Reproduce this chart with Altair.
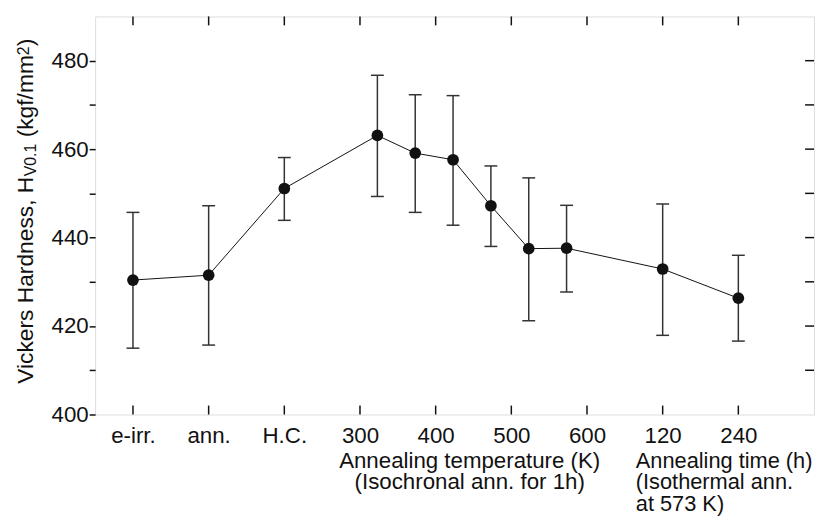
import json
import altair as alt
import pandas as pd

# ---- data ----
tick_labels = ["e-irr.", "ann.", "H.C.", "300", "400", "500", "600", "120", "240"]
tick_pos = [0, 1, 2, 3, 4, 5, 6, 7, 8]
# sample positions on the category axis: e-irr, ann, H.C., 323..573 K, 120 h, 240 h
x_pos = [0, 1, 2, 3.23, 3.73, 4.23, 4.73, 5.23, 5.73, 7, 8]
hv = [430.4, 431.5, 451.1, 463.1, 459.1, 457.6, 447.2, 437.5, 437.6, 432.9, 426.3]
hv_hi = [445.7, 447.2, 458.1, 476.7, 472.3, 472.1, 456.2, 453.5, 447.3, 447.6, 436.0]
hv_lo = [415.0, 415.7, 443.9, 449.3, 445.7, 442.8, 438.0, 421.2, 427.7, 417.9, 416.6]
y_ticks = [400, 410, 420, 430, 440, 450, 460, 470, 480]

W, H = 726, 402
FONT = "Liberation Sans"
FS = 22.5

df = pd.DataFrame({"x": x_pos, "hv": hv, "hi": hv_hi, "lo": hv_lo})
df_xt = pd.DataFrame({"x": tick_pos})
df_yt = pd.DataFrame({"y": y_ticks[1:]})

xs = alt.Scale(domain=[-0.5, 9], nice=False, zero=False)
ys = alt.Scale(domain=[400, 490], nice=False, zero=False)

xaxis = alt.Axis(
    values=tick_pos,
    labelExpr=json.dumps(tick_labels) + "[datum.value]",
    ticks=False, tickSize=0, domain=False, grid=False,
    labelFont=FONT, labelFontSize=FS, labelColor="#111",
    labelPadding=10, labelFlush=False, labelOverlap=False, title=None,
)
yaxis = alt.Axis(
    values=y_ticks,
    labelExpr="datum.value % 20 == 0 ? datum.label : ''",
    ticks=True, tickSize=6, tickWidth=1.5, tickColor="#111",
    domain=False, grid=False,
    labelFont=FONT, labelFontSize=FS, labelColor="#111",
    labelPadding=1, title=None,
)


def X(field="x"):
    return alt.X(f"{field}:Q", scale=xs, axis=xaxis)


def Y(field):
    return alt.Y(f"{field}:Q", scale=ys, axis=yaxis)


bars = alt.Chart(df).mark_rule(color="#333", strokeWidth=1.5).encode(
    x=X(), y=Y("lo"), y2="hi:Q"
)
cap_hi = alt.Chart(df).mark_tick(orient="horizontal", size=13, thickness=1.5, color="#333", opacity=1).encode(
    x=X(), y=Y("hi")
)
cap_lo = alt.Chart(df).mark_tick(orient="horizontal", size=13, thickness=1.5, color="#333", opacity=1).encode(
    x=X(), y=Y("lo")
)
line = alt.Chart(df).mark_line(color="#111", strokeWidth=1).encode(x=X(), y=Y("hv"))
pts = alt.Chart(df).mark_point(filled=True, size=140, color="#111", opacity=1, shape="circle").encode(
    x=X(), y=Y("hv")
)

# inward ticks on bottom / top / right
tick_b = alt.Chart(df_xt).mark_rule(color="#111", strokeWidth=1.5).encode(
    x=X(), y=alt.value(H - 9), y2=alt.value(H)
)
tick_t = alt.Chart(df_xt).mark_rule(color="#111", strokeWidth=1.5).encode(
    x=X(), y=alt.value(0), y2=alt.value(9)
)
tick_r = alt.Chart(df_yt).mark_rule(color="#111", strokeWidth=1.5).encode(
    y=Y("y"), x=alt.value(W - 9), x2=alt.value(W)
)

# x-axis titles
df_t1 = pd.DataFrame({"x": [4.45], "t": ["Annealing temperature (K)\n(Isochronal ann. for 1h)"]})
df_t2 = pd.DataFrame({"x": [6.645], "t": ["Annealing time (h)\n(Isothermal ann.\nat 573 K)"]})
t1 = alt.Chart(df_t1).mark_text(
    align="center", baseline="alphabetic", lineBreak="\n", lineHeight=21.5,
    font=FONT, fontSize=FS, color="#111"
).encode(x=X(), y=alt.value(456), text="t:N")
t2 = alt.Chart(df_t2).mark_text(
    align="left", baseline="alphabetic", lineBreak="\n", lineHeight=21.5,
    font=FONT, fontSize=22, color="#111"
).encode(x=X(), y=alt.value(456), text="t:N")

# y-axis title built from segments (subscript / superscript)
seg_df = pd.DataFrame({"a": [0]})


def seg(text, px, py, size):
    return alt.Chart(seg_df).mark_text(
        text=text, angle=270, align="left", baseline="alphabetic",
        font=FONT, fontSize=size, color="#111"
    ).encode(x=alt.value(px), y=alt.value(py))


ytitle = [
    seg("Vickers Hardness, H", -63, 371, 23),
    seg("V0.1", -60, 161.4, 16),
    seg("(kgf/mm", -63, 122.1, 23),
    seg("2", -67, 39.1, 16),
    seg(")", -63, 30.2, 23),
]

chart = alt.layer(
    bars, cap_hi, cap_lo, line, pts, tick_b, tick_t, tick_r, t1, t2, *ytitle
).properties(
    width=W, height=H,
    autosize=alt.AutoSizeParams(type="none"),
    padding={"left": 88, "top": 6, "right": 1, "bottom": 104},
).configure_view(
    stroke="#111", strokeWidth=1.5
).configure(background="white")

chart.save("out.html", embed_options={"renderer": "svg", "actions": False})
